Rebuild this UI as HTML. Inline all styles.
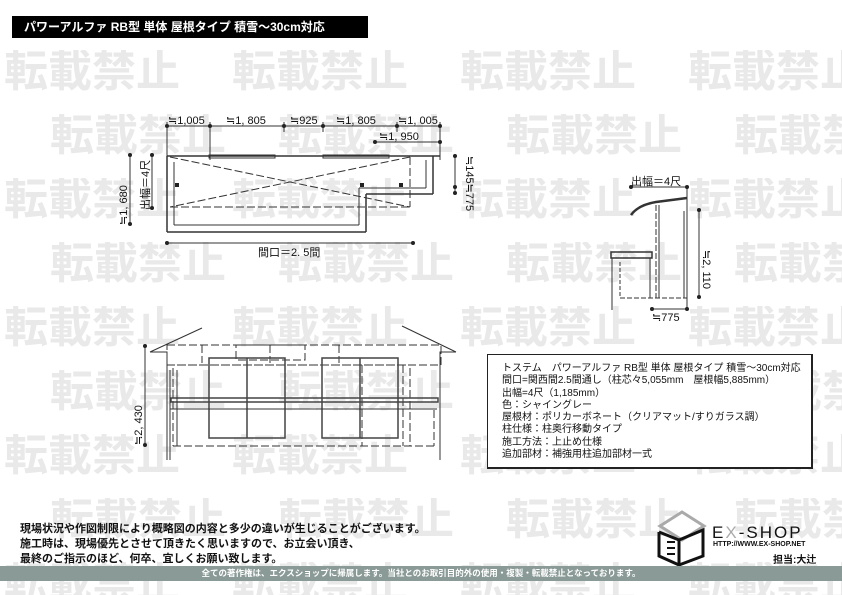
<!DOCTYPE html>
<html><head><meta charset="utf-8"><style>
body{margin:0;width:842px;height:595px;overflow:hidden;background:#fff;position:relative;font-family:"Liberation Sans","Noto Sans CJK JP",sans-serif}
#wms{position:absolute;left:0;top:0;width:842px;height:595px;overflow:hidden}
.wm{position:absolute;font-size:44px;font-weight:bold;color:#e9e9e9;white-space:nowrap;line-height:44px}
.t{position:absolute;white-space:nowrap}
</style></head><body>
<div id="wms"></div>
<script>
var h='';for(var r=0;r<9;r++){var y=50+r*64;var off=(r%2==0)?4:50;for(var c=0;c<4;c++){var x=off+c*228;var w=Math.min(180,842-x);h+='<div class="wm" style="left:'+x+'px;top:'+y+'px;width:'+w+'px;overflow:hidden">転載禁止</div>';}}
document.getElementById('wms').innerHTML=h;
</script>
<div class="t" style="left:12px;top:16px;width:356px;height:22px;background:#000;color:#fff;font-size:12px;font-weight:bold;line-height:22px;padding-left:12px;box-sizing:border-box">パワーアルファ RB型 単体 屋根タイプ 積雪～30cm対応</div>

<svg style="position:absolute;left:0;top:0" width="842" height="595" font-family="Liberation Sans, Noto Sans CJK JP, sans-serif" font-size="11">
<g stroke="#333" stroke-width="1" fill="none">
<line x1="167" y1="126" x2="440" y2="126"/>
<line x1="375" y1="142" x2="440" y2="142"/>
<line x1="167" y1="122" x2="167" y2="230"/><line x1="210" y1="122" x2="210" y2="160"/>
<line x1="284" y1="122" x2="284" y2="132"/><line x1="323" y1="122" x2="323" y2="132"/>
<line x1="397" y1="122" x2="397" y2="132"/><line x1="440" y1="122" x2="440" y2="160"/>
<line x1="165" y1="243" x2="413" y2="243"/>
<line x1="130" y1="155" x2="130" y2="225"/><line x1="152" y1="155" x2="152" y2="208"/>
<line x1="455" y1="156" x2="455" y2="193"/>
<line x1="167" y1="156" x2="440" y2="156" stroke-width="1.5"/>
<rect x="209" y="155" width="66" height="3"/>
<rect x="323" y="155" width="66" height="3"/>
<line x1="167" y1="156" x2="167" y2="232" stroke-width="1.5"/>
<line x1="167" y1="232" x2="366" y2="232" stroke-width="1.5"/>
<line x1="366" y1="232" x2="366" y2="194" stroke-width="1.5"/>
<line x1="366" y1="194" x2="433" y2="194" stroke-width="1.5"/>
<line x1="433" y1="194" x2="433" y2="156" stroke-width="1.5"/>
<line x1="174" y1="162" x2="174" y2="225"/><line x1="174" y1="225" x2="359" y2="225"/>
<line x1="359" y1="225" x2="359" y2="188"/><line x1="359" y1="188" x2="426" y2="188"/><line x1="426" y1="188" x2="426" y2="160"/>
<g stroke-dasharray="8,3">
<line x1="170" y1="157" x2="410" y2="207"/><line x1="410" y1="157" x2="170" y2="207"/>
<line x1="170" y1="207" x2="410" y2="207"/><line x1="410" y1="157" x2="410" y2="207"/>
</g>
<line x1="145" y1="346" x2="145" y2="445"/>
<polyline points="150,352 202,328"/><polyline points="150,352 167,352 167,460"/>
<polyline points="402,326 456,352"/><polyline points="456,352 440,352 440,460"/>
<g stroke-dasharray="8,3">
<rect x="167" y="345" width="274" height="20"/>
<line x1="167" y1="365" x2="410" y2="365"/>
<rect x="236" y="345" width="69" height="15"/>
<line x1="173" y1="368" x2="173" y2="446"/><line x1="410" y1="368" x2="410" y2="446"/>
<line x1="173" y1="446" x2="434" y2="446"/><line x1="434" y1="410" x2="434" y2="446"/>
<line x1="362" y1="365" x2="362" y2="446"/><line x1="403" y1="365" x2="403" y2="446"/>
<line x1="202" y1="345" x2="202" y2="363"/><line x1="270" y1="345" x2="270" y2="363"/><line x1="339" y1="345" x2="339" y2="363"/>
</g>
<g stroke="#444" stroke-width="1.5">
<rect x="209" y="358" width="76" height="80"/><line x1="247" y1="358" x2="247" y2="438"/>
<rect x="322" y="358" width="76" height="80"/><line x1="360" y1="358" x2="360" y2="438"/>
<rect x="171" y="398" width="267" height="4"/>
</g>
<line x1="170" y1="409" x2="437" y2="409"/>
<line x1="170" y1="370" x2="170" y2="460"/><line x1="177" y1="370" x2="177" y2="446"/>
<line x1="631" y1="187" x2="687" y2="187"/>
<line x1="699" y1="210" x2="699" y2="298"/>
<line x1="652" y1="309" x2="687" y2="309"/>
<line x1="687" y1="187" x2="687" y2="310"/>
<path d="M631,215 Q638,205 656,202 L687,198" stroke-width="2.5"/>
<line x1="656" y1="205" x2="656" y2="298" stroke-dasharray="6,2"/><line x1="659" y1="205" x2="659" y2="298"/>
<line x1="684" y1="211" x2="684" y2="298"/>
<rect x="611" y="252" width="41" height="6" stroke-width="1.5"/>
<line x1="612" y1="258" x2="612" y2="310"/><line x1="650" y1="258" x2="650" y2="298"/>
<line x1="620" y1="262" x2="620" y2="298" stroke-dasharray="4,2"/>
<line x1="620" y1="298" x2="687" y2="298" stroke-dasharray="5,2"/>
</g>
<g fill="#222">
<circle cx="167" cy="126" r="2"/><circle cx="210" cy="126" r="2"/><circle cx="284" cy="126" r="2"/><circle cx="323" cy="126" r="2"/><circle cx="397" cy="126" r="2"/><circle cx="440" cy="126" r="2"/>
<circle cx="375" cy="142" r="2"/><circle cx="440" cy="142" r="2"/>
<circle cx="167" cy="243" r="2"/><circle cx="413" cy="243" r="2"/>
<circle cx="130" cy="155" r="2"/><circle cx="130" cy="224" r="2"/><circle cx="152" cy="155" r="2"/><circle cx="152" cy="208" r="2"/>
<circle cx="455" cy="156" r="2"/><circle cx="455" cy="187" r="2"/><circle cx="455" cy="193" r="2"/>
<circle cx="145" cy="346" r="2"/><circle cx="145" cy="445" r="2"/>
<circle cx="631" cy="187" r="2"/><circle cx="687" cy="187" r="2"/><circle cx="699" cy="210" r="2"/><circle cx="699" cy="297" r="2"/><circle cx="652" cy="309" r="2"/><circle cx="687" cy="309" r="2"/>
<rect x="175" y="183" width="4" height="4"/><rect x="360" y="183" width="4" height="4"/><rect x="399" y="183" width="4" height="4"/>
</g>
<g fill="#111" font-size="11">
<text x="168" y="124">≒1,005</text><text x="226" y="124">≒1, 805</text><text x="290" y="124">≒925</text><text x="336" y="124">≒1, 805</text><text x="398" y="124">≒1, 005</text>
<text x="379" y="140">≒1, 950</text>
<text x="258" y="256">間口＝2. 5間</text>
<text transform="translate(127,225) rotate(-90)">≒1, 680</text>
<text transform="translate(149,210) rotate(-90)">出幅＝4尺</text>
<text transform="translate(466,156) rotate(90)">≒145≒775</text>
<text transform="translate(142,445) rotate(-90)">≒2, 430</text>
<text x="631" y="185">出幅＝4尺</text>
<text transform="translate(703,250) rotate(90)">≒2, 110</text>
<text x="652" y="321">≒775</text>
</g>
</svg>

<div style="position:absolute;left:487px;top:354px;width:326px;height:115px;border:1px solid #222;border-right:2px solid #222;border-bottom:2px solid #222;box-sizing:border-box;background:#fff"></div>
<div class="t" style="left:502px;top:363px;font-size:10px;line-height:12.3px;color:#111">トステム　パワーアルファ RB型 単体 屋根タイプ 積雪～30cm対応<br>間口=関西間2.5間通し（柱芯々5,055mm　屋根幅5,885mm）<br>出幅=4尺（1,185mm）<br>色：シャイングレー<br>屋根材：ポリカーボネート（クリアマット/すりガラス調）<br>柱仕様：柱奥行移動タイプ<br>施工方法：上止め仕様<br>追加部材：補強用柱追加部材一式</div>

<div class="t" style="left:20px;top:522px;font-size:11px;font-weight:bold;line-height:15px;color:#111">現場状況や作図制限により概略図の内容と多少の違いが生じることがございます。<br>施工時は、現場優先とさせて頂きたく思いますので、お立会い頂き、<br>最終のご指示のほど、何卒、宜しくお願い致します。</div>

<svg style="position:absolute;left:655px;top:510px" width="55" height="56">
<polygon points="5,16 27,2 49,16 27,30" fill="#fff" stroke="#aaa" stroke-width="3"/>
<polyline points="4,22 4,46 24,55 24,30 4,22" fill="none" stroke="#111" stroke-width="3"/>
<polyline points="24,30 48,20 48,46 24,55" fill="none" stroke="#111" stroke-width="3"/>
<path d="M12,32 h8 M12,38 h8 M12,44 h8" stroke="#111" stroke-width="2"/>
</svg>
<div class="t" style="left:712px;top:523px;font-size:17px;letter-spacing:2px;color:#111">E<span style="color:#aaa">X</span>-SHOP</div>
<div class="t" style="left:713px;top:541px;font-size:7px;font-weight:bold;color:#111">HTTP://WWW.EX-SHOP.NET</div>
<div class="t" style="left:773px;top:551px;font-size:10px;font-weight:bold;color:#111">担当:大辻</div>

<div style="position:absolute;left:0;top:566px;width:842px;height:15px;background:#8a9a96"></div>
<div class="t" style="left:0;top:566px;width:842px;text-align:center;font-size:8.5px;font-weight:bold;color:#fff;line-height:15px">全ての著作権は、エクスショップに帰属します。当社とのお取引目的外の使用・複製・転載禁止となっております。</div>
</body></html>
